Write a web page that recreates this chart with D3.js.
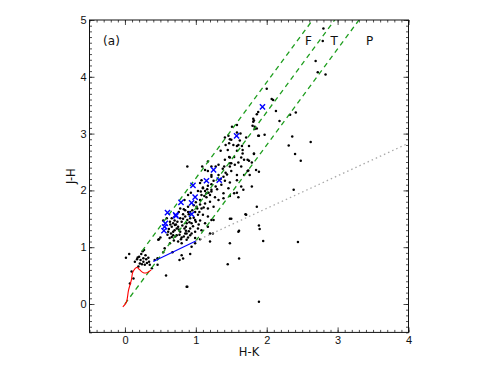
<!DOCTYPE html>
<html>
<head>
<meta charset="utf-8">
<script src="https://cdn.jsdelivr.net/npm/d3@7"></script>
<style>
  body { margin: 0; background: #fff; }
  svg { font-family: "DejaVu Sans", sans-serif; }
</style>
</head>
<body>
<svg id="chart" width="500" height="366"></svg>
<script>
// intrinsic dwarf locus (red), CTTS locus (blue)
const dwarfLocus = [[-0.03,-0.05],[0.02,0.03],[0.05,0.24],[0.09,0.42],[0.11,0.56],[0.14,0.62],[0.17,0.645],[0.21,0.6],[0.26,0.55],[0.31,0.55],[0.37,0.6]];
const cttsLocus = [[0.40,0.75],[1.0,1.11]];
const dustLine = [[1.0,1.11],[4.0,2.83]];
// starting points of the reddening band lines
const reddeningStarts = [[0.24,0.93],[0.0,0.0],[1.0,1.11]];
const reddeningSlope = 1.69;

const bandLabels = ["F", "T", "P"];
const bandLabelX = [2.59, 2.95, 3.45];

const xTicks = [0, 1, 2, 3, 4];
const yTicks = [0, 1, 2, 3, 4, 5];

// blue crosses
const blueStars = [[1.575,2.96],[1.94,3.47],[1.25,2.36],[1.15,2.17],[1.33,2.18],[0.96,2.09],[0.99,1.88],
  [0.79,1.79],[0.94,1.78],[0.60,1.61],[0.715,1.57],[0.72,1.55],[0.94,1.58],[0.57,1.42],[0.56,1.36],[0.55,1.29]];

// black dots
const blackStars = [
  [2.80,4.85],[2.79,4.63],[2.69,4.28],[2.72,4.08],[2.83,4.04],[2.41,3.37],[2.33,3.33],[2.36,2.95],
  [2.31,2.79],[2.62,2.85],[2.40,2.64],[2.48,2.52],[2.38,2.01],[2.18,3.22],
  [1.48,1.50],[1.60,1.27],[1.48,1.07],[1.61,0.80],[1.71,1.57],[1.86,1.71],[1.89,1.38],[1.90,1.32],
  [1.95,1.11],[2.44,1.09],[1.89,0.04],[1.45,0.70],[0.88,0.305],[0.58,0.50],
  [1.51,3.12],[1.58,3.15],[1.81,3.21],[1.83,3.12],[1.89,2.96],[1.97,2.98],[1.48,2.90],[1.53,2.80],
  [1.58,2.78],[1.65,2.78],[1.66,2.71],[1.48,2.58],[1.64,2.58],[1.60,2.49],[1.50,2.48],[1.82,2.64],
  [1.75,2.52],[1.79,2.49],[1.73,2.34],[1.74,2.35],[1.89,2.33],[1.48,2.42],[1.58,2.27],[1.64,2.07],
  [1.54,1.95],[1.58,1.96],[1.50,1.50],[1.70,1.58],[1.61,1.29],
  [2.00,3.79],[2.07,3.61],[2.09,3.59],[2.13,3.40],[1.88,3.38],[1.81,3.26],[1.82,3.23],[1.80,3.14],
  [1.83,3.08],[1.88,2.96],[1.63,3.00],[1.58,3.02],[1.71,2.93],
  [1.86,3.34],[1.86,3.09],[1.46,2.96],[1.41,2.93],[1.50,2.89],[1.62,2.88],[1.47,2.83],[1.42,2.80],
  [1.45,2.71],[1.35,2.70],[1.60,2.80],[1.58,2.70],[1.75,2.78],[1.82,2.65],[1.66,2.65],[1.68,2.54],
  [1.73,2.54],[1.47,2.59],[1.54,2.59],[1.41,2.54],[1.48,2.48],[1.55,2.45],[1.64,2.42],[1.40,2.42],
  [1.32,2.45],[1.28,2.42],[1.85,2.36],[1.76,2.27],[1.68,2.27],[1.50,2.34],[1.42,2.31],[1.13,2.36],
  [1.09,2.42],[1.32,2.27],[1.39,2.24],[1.22,2.24],[1.25,2.17],[1.41,2.17],[1.48,2.14],[1.58,2.18],
  [1.79,2.07],[1.67,2.01],[1.46,2.04],[1.36,2.10],[1.28,2.07],[1.17,2.08],[1.10,2.05],[1.06,2.13],
  [0.88,2.42],[1.03,1.99],[1.13,1.99],[1.22,1.98],[1.39,1.95],[1.48,1.90],[1.60,1.88],[0.93,1.96],
  [1.08,1.92],[1.15,1.88],[1.27,1.88],[1.32,1.83],[1.39,1.86],
  [1.17,2.51],[1.22,2.42],[1.17,2.34],[1.22,2.27],[1.08,2.18],[1.22,2.11],[1.10,2.04],[1.07,1.98],
  [1.15,1.95],[1.22,2.01],[1.20,1.92],[0.89,1.92],[0.84,1.83],[1.06,1.83],[1.13,1.77],[1.20,1.80],
  [0.89,1.71],[1.01,1.71],[1.08,1.68],[1.17,1.68],[1.25,1.71],[0.78,1.68],[0.85,1.65],[0.89,1.62],
  [0.99,1.62],[1.03,1.57],[1.10,1.57],[1.17,1.54],[0.85,1.54],[0.78,1.51],[0.66,1.51],[0.92,1.51],
  [0.99,1.48],[1.06,1.47],[0.80,1.45],[0.87,1.42],[0.94,1.42],[0.705,1.39],[0.66,1.36],[0.75,1.36],
  [0.84,1.33],[0.92,1.33],[1.03,1.33],[1.13,1.42],[1.17,1.36],[0.61,1.27],[0.68,1.27],[0.78,1.27],
  [0.85,1.24],[0.94,1.24],[0.73,1.21],[0.66,1.18],[0.80,1.17],[0.50,1.17],[1.20,1.24],[1.25,1.48],
  [0.47,1.13],[0.99,1.16],[0.89,1.17],[0.54,1.47],[0.59,1.51],[0.635,1.45],
  [0.62,1.32],[0.70,1.30],[0.74,1.45],[0.82,1.50],[0.88,1.48],[0.90,1.58],[0.95,1.65],[0.97,1.52],
  [0.72,1.40],[0.77,1.22],[0.83,1.19],[0.65,1.24],[0.60,1.22],[0.69,1.12],[0.75,1.10],[0.86,1.36],
  [0.90,1.28],[1.00,1.45],[1.04,1.40],[1.02,1.68],[1.06,1.75],[1.12,1.90],[1.16,2.02],[1.30,2.02],
  [1.35,2.20],[1.44,2.28],[1.38,2.38],[0.76,1.62],[0.82,1.58],[0.70,1.47],[0.64,1.40],[0.92,1.62],
  [0.014,0.815],[0.06,0.88],[0.14,0.745],[0.17,0.79],[0.20,0.83],[0.22,0.775],[0.26,0.805],[0.30,0.79],
  [0.26,0.745],[0.33,0.815],[0.34,0.745],[0.21,0.715],[0.19,0.66],[0.28,0.69],[0.35,0.69],[0.38,0.63],
  [0.25,0.93],[0.27,0.95],[0.46,0.69],[0.42,0.775],[0.46,0.805],[0.56,0.98],[0.54,0.91],[0.67,0.91],
  [0.80,0.86],[0.82,0.80],[0.77,0.775],[0.87,0.305],[0.094,0.57],[0.12,0.45],[0.07,0.36],
  [0.48,1.14],[0.635,1.07],[0.68,1.21],[0.87,1.13],[0.92,1.21],[0.99,1.27],[0.94,1.01],[0.99,1.07],
  [0.80,1.07],[1.06,1.14],[1.20,1.10],[1.22,1.48],[1.24,1.24],[1.08,1.30],[0.92,0.88],[0.87,1.24],
  [0.18,0.82],[0.23,0.88],[0.29,0.86],[0.31,0.72],[0.24,0.70],
  [0.63,1.16],[0.71,1.19],[0.76,1.31],[0.81,1.38],[0.68,1.42],[0.73,1.33],[0.79,1.14],[0.86,1.29],
  [0.91,1.44],[0.96,1.37],[0.83,1.67],[0.97,1.74],[1.05,1.62],[1.11,1.70],[1.00,1.79],[1.18,1.96]
];

const svg = d3.select("#chart");
const plotLeft = 89.5, plotRight = 408.5, plotTop = 20, plotBottom = 332.4;

const x = d3.scaleLinear().domain([-0.5, 4]).range([plotLeft, plotRight]);
const y = d3.scaleLinear().domain([-0.5, 5]).range([plotBottom, plotTop]);

const minorX = d3.range(-5, 41).map(i => i / 10);
const minorY = d3.range(-5, 51).map(i => i / 10);

function styleAxis(g) {
  g.select(".domain").remove();
  g.selectAll(".tick line").attr("stroke", "#222").attr("stroke-width", 0.8);
  g.selectAll("text").attr("fill", "#111").style("font-size", "11px");
}

// minor ticks on all four sides
svg.append("g").attr("transform", `translate(0,${plotBottom})`)
  .call(d3.axisBottom(x).tickValues(minorX).tickSize(-2.5).tickFormat(""))
  .call(styleAxis);
svg.append("g").attr("transform", `translate(0,${plotTop})`)
  .call(d3.axisTop(x).tickValues(minorX).tickSize(-2.5).tickFormat(""))
  .call(styleAxis);
svg.append("g").attr("transform", `translate(${plotLeft},0)`)
  .call(d3.axisLeft(y).tickValues(minorY).tickSize(-2.5).tickFormat(""))
  .call(styleAxis);
svg.append("g").attr("transform", `translate(${plotRight},0)`)
  .call(d3.axisRight(y).tickValues(minorY).tickSize(-2.5).tickFormat(""))
  .call(styleAxis);

// major ticks
svg.append("g").attr("transform", `translate(0,${plotBottom})`)
  .call(d3.axisBottom(x).tickValues(xTicks).tickSize(-5).tickPadding(4).tickFormat(d3.format("d")))
  .call(styleAxis);
svg.append("g").attr("transform", `translate(0,${plotTop})`)
  .call(d3.axisTop(x).tickValues(xTicks).tickSize(-5).tickFormat(""))
  .call(styleAxis);
svg.append("g").attr("transform", `translate(${plotLeft},0)`)
  .call(d3.axisLeft(y).tickValues(yTicks).tickSize(-5).tickPadding(3).tickFormat(d3.format("d")))
  .call(styleAxis);
svg.append("g").attr("transform", `translate(${plotRight},0)`)
  .call(d3.axisRight(y).tickValues(yTicks).tickSize(-5).tickFormat(""))
  .call(styleAxis);

const plot = svg.append("g");
plot.append("clipPath").attr("id", "clip")
  .append("rect").attr("x", plotLeft).attr("y", plotTop)
  .attr("width", plotRight - plotLeft).attr("height", plotBottom - plotTop);
const inner = plot.append("g").attr("clip-path", "url(#clip)");

const line = d3.line().x(d => x(d[0])).y(d => y(d[1]));

// black dots
inner.selectAll(".dot")
  .data(blackStars)
  .enter()
  .append("circle")
  .attr("class", "dot")
  .attr("cx", d => x(d[0]))
  .attr("cy", d => y(d[1]))
  .attr("r", 1.25)
  .attr("fill", "#000");

// reddening band lines
inner.selectAll(".redden")
  .data(reddeningStarts)
  .enter()
  .append("path")
  .attr("class", "redden")
  .attr("d", d => line([d, [d[0] + (5.2 - d[1]) / reddeningSlope, 5.2]]))
  .attr("fill", "none")
  .attr("stroke", "#1e9e1e")
  .attr("stroke-width", 1.3)
  .attr("stroke-dasharray", "5,4");

inner.append("path")
  .datum(dustLine)
  .attr("d", line)
  .attr("fill", "none")
  .attr("stroke", "#aaaaaa")
  .attr("stroke-width", 1.3)
  .attr("stroke-dasharray", "1.5,3");

inner.append("path")
  .datum(cttsLocus)
  .attr("d", line)
  .attr("fill", "none")
  .attr("stroke", "#0000ff")
  .attr("stroke-width", 1.1);

inner.append("path")
  .datum(dwarfLocus)
  .attr("d", d3.line().x(d => x(d[0])).y(d => y(d[1])).curve(d3.curveCatmullRom))
  .attr("fill", "none")
  .attr("stroke", "#ff0000")
  .attr("stroke-width", 1.1);

// blue crosses
const s = 2.6;
inner.selectAll(".cross")
  .data(blueStars)
  .enter()
  .append("path")
  .attr("class", "cross")
  .attr("d", d => {
    const cx = x(d[0]), cy = y(d[1]);
    return `M${cx - s},${cy - s}L${cx + s},${cy + s}M${cx - s},${cy + s}L${cx + s},${cy - s}`;
  })
  .attr("stroke", "#0000ff")
  .attr("stroke-width", 1.4);

// frame
svg.append("rect")
  .attr("x", plotLeft).attr("y", plotTop)
  .attr("width", plotRight - plotLeft).attr("height", plotBottom - plotTop)
  .attr("fill", "none")
  .attr("stroke", "#111")
  .attr("stroke-width", 1);

// band labels and panel tag
svg.selectAll(".band")
  .data(bandLabels)
  .enter()
  .append("text")
  .attr("x", (d, i) => x(bandLabelX[i]))
  .attr("y", y(4.64))
  .attr("dy", "0.36em")
  .attr("text-anchor", "middle")
  .style("font-size", "12px")
  .attr("fill", "#111")
  .text(d => d);

svg.append("text")
  .attr("x", x(-0.19))
  .attr("y", y(4.64))
  .attr("dy", "0.36em")
  .attr("text-anchor", "middle")
  .style("font-size", "12px")
  .attr("fill", "#111")
  .text("(a)");

// axis titles
svg.append("text")
  .attr("x", (plotLeft + plotRight) / 2)
  .attr("y", 356)
  .attr("text-anchor", "middle")
  .style("font-size", "11.5px")
  .attr("fill", "#111")
  .text("H-K");

svg.append("text")
  .attr("transform", `translate(75,${(plotTop + plotBottom) / 2}) rotate(-90)`)
  .attr("text-anchor", "middle")
  .style("font-size", "11.5px")
  .attr("fill", "#111")
  .text("J-H");
</script>
</body>
</html>
